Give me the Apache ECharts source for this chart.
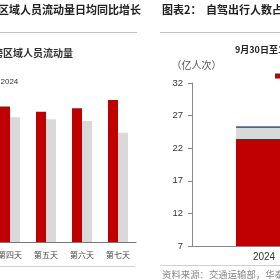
<!DOCTYPE html>
<html>
<head>
<meta charset="utf-8">
<script src="https://cdn.jsdelivr.net/npm/echarts@6/dist/echarts.min.js"></script>
<style>
html,body{margin:0;padding:0;background:#fff;}
#c{width:280px;height:280px;}
</style>
</head>
<body>
<div id="c"></div>
<script>
// Left chart: daily cross-region flow growth (partly visible)
const dayLabels = ['第一天', '第二天', '第三天', '第四天', '第五天', '第六天', '第七天'];
const flow2024 = [14.5, 14.2, 14.6, 14.9, 14.3, 14.7, 15.6];
const flow2023 = [13.8, 13.6, 13.9, 13.7, 13.5, 13.3, 12.0];

// Right chart: self-driving trips (亿人次)
const yearLabels = ['2024', '2023'];
const selfDrive = [23.4, null];
const otherTrips = [1.7, null];
const topTrips = [0.25, null];
const rightTickMin = 7, rightTickMax = 32, rightTickStep = 5;

const CJK = '"Noto Sans CJK SC", sans-serif';
const LAT = '"Liberation Sans", Arial, sans-serif';
const RED = '#c00000', GRAY = '#d9d9d9', PURPLE = '#5b5b9b';

const chart = echarts.init(document.getElementById('c'), null, {renderer: 'canvas'});
chart.setOption({
  animation: false,
  backgroundColor: '#fff',
  legend: [
    {
      data: ['2024'], left: -17.5, top: 73, itemWidth: 8, itemHeight: 6, icon: 'rect',
      textStyle: {fontSize: 8, color: '#333', fontFamily: LAT}, width: 200
    },
    {
      data: ['自驾出行人数'], left: 270, top: 66.5, itemWidth: 5, itemHeight: 5, icon: 'rect',
      textStyle: {fontSize: 9, color: '#333', fontFamily: CJK}, width: 300
    }
  ],
  grid: [
    {left: -116, width: 252, top: 60, bottom: 38, outerBoundsMode: 'none', containLabel: false},
    {left: 192, width: 288, top: 83, bottom: 34, outerBoundsMode: 'none', containLabel: false}
  ],
  xAxis: [
    {
      gridIndex: 0, type: 'category', data: dayLabels,
      axisLine: {lineStyle: {color: '#777', width: 1}},
      axisTick: {length: 3, lineStyle: {color: '#777'}},
      axisLabel: {fontSize: 8, color: '#444', fontFamily: CJK, margin: 9, interval: 0}
    },
    {
      gridIndex: 1, type: 'category', data: yearLabels,
      axisLine: {lineStyle: {color: '#888', width: 1}},
      axisTick: {show: false},
      axisLabel: {fontSize: 10, color: '#333', fontFamily: LAT, margin: 6}
    }
  ],
  yAxis: [
    {gridIndex: 0, type: 'value', min: 0, max: 20, show: false},
    {
      gridIndex: 1, type: 'value', min: rightTickMin, max: rightTickMax, interval: rightTickStep,
      name: '（亿人次）', nameLocation: 'end', nameGap: 13,
      nameTextStyle: {fontSize: 10, color: '#555', fontFamily: CJK, padding: [0, 0, 0, 9]},
      axisLine: {show: true, lineStyle: {color: '#888', width: 1}},
      axisTick: {show: true, length: 4, lineStyle: {color: '#888'}},
      splitLine: {show: false},
      axisLabel: {fontSize: 9.5, color: '#333', fontFamily: LAT, margin: 9}
    }
  ],
  series: [
    {name: '2024', type: 'bar', xAxisIndex: 0, yAxisIndex: 0, data: flow2024, barWidth: 10, barGap: '0%', itemStyle: {color: RED}},
    {name: '2023', type: 'bar', xAxisIndex: 0, yAxisIndex: 0, data: flow2023, barWidth: 10, barGap: '0%', itemStyle: {color: GRAY}},
    {name: '自驾出行人数', type: 'bar', xAxisIndex: 1, yAxisIndex: 1, stack: 's', data: selfDrive, barWidth: 56, itemStyle: {color: RED}},
    {name: '其他出行人数', type: 'bar', xAxisIndex: 1, yAxisIndex: 1, stack: 's', data: otherTrips, barWidth: 56, itemStyle: {color: GRAY}},
    {name: '其他', type: 'bar', xAxisIndex: 1, yAxisIndex: 1, stack: 's', data: topTrips, barWidth: 56, itemStyle: {color: PURPLE}}
  ],
  graphic: [
    {type: 'text', style: {text: '图表1：跨区域人员流动量日均同比增长', x: 141, y: 10, textAlign: 'right', textVerticalAlign: 'middle', fontSize: 11, fontWeight: 'bold', fill: '#222', fontFamily: CJK}},
    {type: 'text', style: {text: '图表2：', x: 162, y: 10, textVerticalAlign: 'middle', fontSize: 11, fontWeight: 'bold', fill: '#222', fontFamily: CJK}},
    {type: 'text', style: {text: '自驾出行人数占比', x: 206, y: 10, textVerticalAlign: 'middle', fontSize: 11, fontWeight: 'bold', fill: '#222', fontFamily: CJK}},
    {type: 'line', shape: {x1: 0, y1: 32.5, x2: 137, y2: 32.5}, style: {stroke: '#c4c4c4', lineWidth: 1}},
    {type: 'line', shape: {x1: 160, y1: 32.5, x2: 280, y2: 32.5}, style: {stroke: '#c4c4c4', lineWidth: 1}},
    {type: 'text', style: {text: '跨区域人员流动量', x: -7, y: 53, textVerticalAlign: 'middle', fontSize: 10, fontWeight: 'bold', fill: '#333', fontFamily: CJK}},
    {type: 'text', style: {text: '9月30日至10月6日', x: 235, y: 50, textVerticalAlign: 'middle', fontSize: 9, fontWeight: 'bold', fill: '#222', fontFamily: CJK}},
    {type: 'line', shape: {x1: 0, y1: 266.5, x2: 135, y2: 266.5}, style: {stroke: '#d0d0d0', lineWidth: 1}},
    {type: 'line', shape: {x1: 160, y1: 265.5, x2: 280, y2: 265.5}, style: {stroke: '#d0d0d0', lineWidth: 1}},
    {type: 'text', style: {text: '资料来源：交通运输部，华泰研究', x: 162, y: 274, textVerticalAlign: 'middle', fontSize: 9.4, fill: '#888', fontFamily: CJK}}
  ]
});
</script>
</body>
</html>
